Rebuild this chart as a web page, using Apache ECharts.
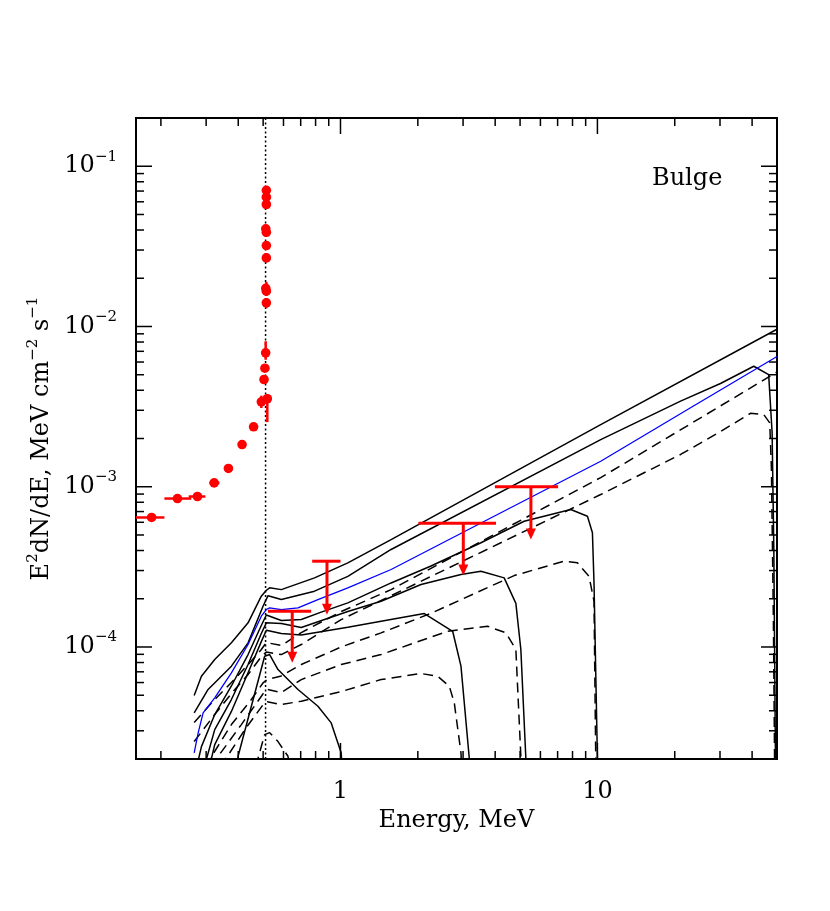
<!DOCTYPE html>
<html><head><meta charset="utf-8">
<script src="https://cdn.jsdelivr.net/npm/echarts@6/dist/echarts.min.js"></script>
<style>html,body{margin:0;padding:0;background:#fff}#c{width:830px;height:911px}</style>
</head><body><div id="c"></div>
<script>
// ---------------- data (Energy in MeV, E^2 dN/dE in MeV cm^-2 s^-1) ----------------
const xMajorTicks = [1, 10];
const xMinorTicks = [0.2,0.3,0.4,0.5,0.6,0.7,0.8,0.9,2,3,4,5,6,7,8,9,20,30,40];
const yMajorTicks = [1e-4, 1e-3, 1e-2, 1e-1];
const yMinorTicks = [3e-5,4e-5,5e-5,6e-5,7e-5,8e-5,9e-5,
  2e-4,3e-4,4e-4,5e-4,6e-4,7e-4,8e-4,9e-4,
  2e-3,3e-3,4e-3,5e-3,6e-3,7e-3,8e-3,9e-3,
  2e-2,3e-2,4e-2,5e-2,6e-2,7e-2,8e-2,9e-2];

// measured spectrum (red points)
const ptE   = [0.148, 0.184, 0.232, 0.2775, 0.3223, 0.3663, 0.414, 0.459, 0.492, 0.519, 0.504, 0.508, 0.5115, 0.5146, 0.5146, 0.512, 0.5146, 0.5146, 0.5146, 0.512, 0.5146, 0.5146, 0.5146];
const ptF   = [9.08e-4, 6.43e-4, 8.44e-4, 8.69e-4, 1.057e-3, 1.30e-3, 1.834e-3, 2.366e-3, 3.39e-3, 3.54e-3, 4.67e-3, 5.49e-3, 6.85e-3, 1.405e-2, 1.66e-2, 1.73e-2, 2.68e-2, 3.2e-2, 3.87e-2, 4.07e-2, 5.77e-2, 6.41e-2, 7.08e-2];
const ptElo = [0.136, 0.158, 0.2064, 0.2565, 0.309, 0.3536, 0.400, 0.443, 0.492, 0.519, 0.504, 0.508, 0.5115, 0.5146, 0.5146, 0.512, 0.5146, 0.5146, 0.5146, 0.512, 0.5146, 0.5146, 0.5146];
const ptEhi = [0.160, 0.2064, 0.2626, 0.298, 0.338, 0.3795, 0.429, 0.4755, 0.492, 0.519, 0.504, 0.508, 0.5115, 0.5146, 0.5146, 0.512, 0.5146, 0.5146, 0.5146, 0.512, 0.5146, 0.5146, 0.5146];
const ptFlo = [9.08e-4, 6.43e-4, 8.44e-4, 8.69e-4, 1.057e-3, 1.30e-3, 1.834e-3, 2.366e-3, 3.1e-3, 2.53e-3, 4.4e-3, 5.2e-3, 6.2e-3, 1.3e-2, 1.55e-2, 1.65e-2, 2.55e-2, 3.05e-2, 3.7e-2, 3.95e-2, 5.6e-2, 6.2e-2, 6.9e-2];
const ptFhi = [9.08e-4, 6.43e-4, 8.44e-4, 8.69e-4, 1.057e-3, 1.30e-3, 1.834e-3, 2.366e-3, 3.7e-3, 3.76e-3, 4.95e-3, 5.8e-3, 8.09e-3, 1.5e-2, 1.9e-2, 1.8e-2, 2.8e-2, 3.35e-2, 4.0e-2, 4.2e-2, 5.95e-2, 6.6e-2, 7.3e-2];

// upper limits (red)
const ulE   = [0.649, 0.886, 3.006, 5.51];
const ulElo = [0.522, 0.776, 2.01, 3.99];
const ulEhi = [0.769, 1.0, 4.03, 7.03];
const ulF   = [1.67e-4, 3.43e-4, 5.92e-4, 1.0e-3];
const ulTip = [7.96e-5, 1.59e-4, 2.79e-4, 4.69e-4];

// model curves [E, E^2 dN/dE]
const solidTop = [[0.2695,4.98e-5],[0.2876,6.57e-5],[0.324,8.35e-5],[0.3762,1.062e-4],[0.4368,1.415e-4],[0.4918,2.075e-4],[0.5146,2.26e-4],[0.530,2.34e-4],[0.5884,2.28e-4],[0.7925,2.70e-4],[1.068,3.35e-4],[1.574,4.68e-4],[10.3,2.44e-3],[50,9.61e-3]];
const solid50 = [[0.2695,3.88e-5],[0.3053,5.43e-5],[0.3762,7.59e-5],[0.4368,1.061e-4],[0.4995,1.795e-4],[0.5224,2.09e-4],[0.5884,1.977e-4],[0.7925,2.23e-4],[1.068,2.76e-4],[1.574,4.06e-4],[10.3,1.97e-3],[21.07,3.42e-3],[30.13,4.41e-3],[40.6,5.65e-3],[46.4,5.01e-3],[47.86,2.17e-3],[48.6,4.06e-4],[49.27,2.40e-5],[49.4,1.5e-5]];
const blueCurve = [[0.2695,2.185e-5],[0.2793,2.91e-5],[0.292,3.88e-5],[0.324,4.82e-5],[0.3762,6.90e-5],[0.4368,1.036e-4],[0.4918,1.556e-4],[0.5146,1.713e-4],[0.530,1.755e-4],[0.5884,1.713e-4],[0.6832,1.755e-4],[0.817,1.977e-4],[1.068,2.34e-4],[1.574,3.045e-4],[4.21,6.88e-4],[10.3,1.443e-3],[23.04,3.11e-3],[50,6.5e-3]];
const solid10 = [[0.276,1.8e-5],[0.2876,2.39e-5],[0.324,3.79e-5],[0.3762,5.71e-5],[0.4368,8.97e-5],[0.4918,1.361e-4],[0.5146,1.583e-4],[0.5884,1.462e-4],[0.7036,1.483e-4],[0.8415,1.65e-4],[1.068,1.886e-4],[1.574,2.51e-4],[2.251,3.2e-4],[3.521,4.47e-4],[5.186,6.09e-4],[7.875,7.21e-4],[9.145,6.55e-4],[9.563,5.16e-4],[9.70,2.51e-4],[10.0,2.03e-5],[10.05,1.5e-5]];
const solid5 = [[0.2954,1.8e-5],[0.324,3.05e-5],[0.3762,4.70e-5],[0.4368,7.77e-5],[0.4918,1.213e-4],[0.5146,1.415e-4],[0.5884,1.40e-4],[0.7036,1.322e-4],[1.068,1.664e-4],[1.439,1.93e-4],[2.058,2.455e-4],[2.944,2.83e-4],[3.521,2.97e-4],[4.336,2.70e-4],[4.815,1.87e-4],[5.035,9.64e-5],[5.265,2.03e-5],[5.29,1.5e-5]];
const solid3 = [[0.3094,1.8e-5],[0.324,2.46e-5],[0.3762,3.96e-5],[0.4368,6.90e-5],[0.4918,1.08e-4],[0.5146,1.272e-4],[0.5884,1.213e-4],[0.7036,1.187e-4],[1.068,1.33e-4],[1.439,1.449e-4],[2.12,1.617e-4],[2.733,1.253e-4],[2.944,7.59e-5],[3.171,2.03e-5],[3.19,1.5e-5]];
const solid1 = [[0.397,1.8e-5],[0.3994,2.08e-5],[0.5068,8.75e-5],[0.530,8.97e-5],[0.5712,7.23e-5],[0.6832,5.43e-5],[0.817,4.27e-5],[0.9202,3.36e-5],[0.977,2.52e-5],[1.006,2.185e-5],[1.02,1.6e-5]];
const dashTop = [[0.2695,3.38e-5],[0.324,4.70e-5],[0.3762,6.0e-5],[0.4368,7.77e-5],[0.4918,9.64e-5],[0.5146,1.066e-4],[0.5884,1.021e-4],[0.7036,1.23e-4],[1.006,1.664e-4],[1.574,2.28e-4],[10.3,1.141e-3],[25.2,2.69e-3],[50,5.2e-3]];
const dash50 = [[0.2695,2.57e-5],[0.324,3.79e-5],[0.3762,5.12e-5],[0.4368,6.73e-5],[0.4918,8.72e-5],[0.5146,9.3e-5],[0.5884,8.97e-5],[0.7036,1.036e-4],[1.006,1.483e-4],[1.574,2.09e-4],[10.3,8.94e-4],[21.07,1.59e-3],[30.13,2.21e-3],[39.4,2.87e-3],[44.4,2.82e-3],[46.85,2.505e-3],[47.56,1.3e-3],[48.4,1.5e-4],[49.0,1.5e-5]];
const dash10 = [[0.298,1.8e-5],[0.3762,3.28e-5],[0.4498,4.70e-5],[0.5008,6.0e-5],[0.519,6.26e-5],[0.5884,6.6e-5],[0.7036,7.77e-5],[1.006,1.0e-4],[1.439,1.225e-4],[2.251,1.623e-4],[4.742,2.79e-4],[7.418,3.43e-4],[8.36,3.35e-4],[9.277,2.76e-4],[9.70,1.93e-4],[9.849,2.08e-5],[9.87,1.5e-5]];
const dash5 = [[0.313,1.8e-5],[0.4113,3.28e-5],[0.5068,5.27e-5],[0.519,5.43e-5],[0.5884,5.2e-5],[0.7036,6.26e-5],[1.006,7.77e-5],[1.439,8.97e-5],[2.614,1.253e-4],[3.738,1.347e-4],[4.404,1.225e-4],[4.815,9.64e-5],[5.035,2.08e-5],[5.05,1.5e-5]];
const dash3 = [[0.342,1.8e-5],[0.4301,3.145e-5],[0.5068,4.5e-5],[0.519,4.55e-5],[0.5884,4.375e-5],[0.7036,4.59e-5],[1.006,5.27e-5],[1.439,6.26e-5],[2.058,6.83e-5],[2.39,6.57e-5],[2.652,5.69e-5],[2.773,4.48e-5],[2.944,2.185e-5],[2.97,1.6e-5]];
const dash1 = [[0.468,1.8e-5],[0.5068,2.84e-5],[0.530,2.92e-5],[0.5712,2.57e-5],[0.6246,2.08e-5],[0.64,1.7e-5]];
const lineE511 = [[0.511, 2e-5], [0.511, 0.2]];

// ---------------- chart ----------------
const X_MIN = 0.16, X_MAX = 50, Y_MIN = 2e-5, Y_MAX = 0.2;
const FONT = 'DejaVu Serif';
const isPow10 = v => Math.abs(Math.log10(v) - Math.round(Math.log10(v))) < 1e-6;

const xTickRows = xMajorTicks.map(v => [v, Y_MIN, 1]).concat(xMinorTicks.map(v => [v, Y_MIN, 0]));
const yTickRows = yMajorTicks.map(v => [X_MIN, v, 1]).concat(yMinorTicks.map(v => [X_MIN, v, 0]));
const ptRows = ptE.map((e, i) => [e, ptF[i], ptElo[i], ptEhi[i], ptFlo[i], ptFhi[i]]);
const ulRows = ulE.map((e, i) => [e, ulF[i], ulElo[i], ulEhi[i], ulTip[i]]);

function curve(data, color, type, width) {
  return {type: 'line', data: data, symbol: 'none', smooth: false, clip: true, silent: true,
    lineStyle: {color: color, width: width || 1.5, type: type || 'solid'}, z: 2};
}
const DASH = [10, 6];

const chart = echarts.init(document.getElementById('c'), null, {renderer: 'canvas'});
chart.setOption({
  animation: false,
  backgroundColor: '#fff',
  title: {text: 'Bulge', left: 647, top: 162,
    textStyle: {fontFamily: FONT, fontSize: 24, fontWeight: 'normal', color: '#000'}},
  grid: {left: 136, top: 118, width: 641, height: 641, show: true, borderColor: '#000', borderWidth: 2,
    backgroundColor: 'transparent', containLabel: false, outerBoundsMode: 'none'},
  xAxis: {type: 'log', logBase: 10, min: X_MIN, max: X_MAX,
    axisLine: {show: false}, axisTick: {show: false}, splitLine: {show: false},
    axisLabel: {margin: 21, fontFamily: FONT, fontSize: 24, color: '#000',
      formatter: v => isPow10(v) ? String(Math.round(v)) : ''},
    name: 'Energy, MeV', nameLocation: 'middle', nameGap: 19,
    nameTextStyle: {fontFamily: FONT, fontSize: 24, color: '#000'}},
  yAxis: {type: 'log', logBase: 10, min: Y_MIN, max: Y_MAX,
    axisLine: {show: false}, axisTick: {show: false}, splitLine: {show: false},
    axisLabel: {margin: 19,
      formatter: v => {
        if (!isPow10(v)) return '';
        const p = Math.round(Math.log10(v));
        return '{b|10}{s|' + (p < 0 ? '\u2212' : '') + Math.abs(p) + '}';
      },
      rich: {b: {fontFamily: FONT, fontSize: 24, color: '#000', lineHeight: 34},
             s: {fontFamily: FONT, fontSize: 15, color: '#000', lineHeight: 15, verticalAlign: 'top'}}},
    name: '{t|E}{s|2}{t|dN/dE, MeV cm}{s|\u22122}{t| s}{s|\u22121}',
    nameLocation: 'middle', nameGap: 67, nameRotate: 90,
    nameTextStyle: {rich: {t: {fontFamily: FONT, fontSize: 24, color: '#000', lineHeight: 32},
                           s: {fontFamily: FONT, fontSize: 15, color: '#000', lineHeight: 15, verticalAlign: 'top'}}}},
  series: [
    curve(lineE511, '#000', [2, 2.5], 1.5),
    curve(dash1, '#000', DASH),
    curve(dash3, '#000', DASH),
    curve(dash5, '#000', DASH),
    curve(dash10, '#000', DASH),
    curve(dash50, '#000', DASH),
    curve(dashTop, '#000', DASH),
    curve(solid1, '#000'),
    curve(solid3, '#000'),
    curve(solid5, '#000'),
    curve(solid10, '#000'),
    curve(solid50, '#000'),
    curve(solidTop, '#000'),
    curve(blueCurve, '#0000ff', 'solid', 1.3),
    {type: 'custom', data: ulRows, encode: {x: 0, y: 1}, clip: true, silent: true, z: 5,
      renderItem: (params, api) => {
        const e = api.value(0), f = api.value(1);
        const l = api.coord([api.value(2), f]), h = api.coord([api.value(3), f]);
        const top = api.coord([e, f]), tip = api.coord([e, api.value(4)]);
        const red = '#ff0000';
        return {type: 'group', children: [
          {type: 'line', shape: {x1: l[0], y1: l[1], x2: h[0], y2: h[1]}, style: {stroke: red, lineWidth: 3}},
          {type: 'line', shape: {x1: top[0], y1: top[1], x2: tip[0], y2: tip[1] - 9}, style: {stroke: red, lineWidth: 3}},
          {type: 'polygon', shape: {points: [[tip[0] - 5, tip[1] - 11], [tip[0] + 5, tip[1] - 11], [tip[0], tip[1]]]}, style: {fill: red}}
        ]};
      }},
    {type: 'custom', data: ptRows, encode: {x: 0, y: 1}, clip: true, silent: true, z: 6,
      renderItem: (params, api) => {
        const e = api.value(0), f = api.value(1);
        const c = api.coord([e, f]);
        const l = api.coord([api.value(2), f]), h = api.coord([api.value(3), f]);
        const lo = api.coord([e, api.value(4)]), hi = api.coord([e, api.value(5)]);
        const red = '#ff0000';
        return {type: 'group', children: [
          {type: 'line', shape: {x1: l[0], y1: l[1], x2: h[0], y2: h[1]}, style: {stroke: red, lineWidth: 2.5}},
          {type: 'line', shape: {x1: lo[0], y1: lo[1], x2: hi[0], y2: hi[1]}, style: {stroke: red, lineWidth: 2.5}},
          {type: 'circle', shape: {cx: c[0], cy: c[1], r: 4.8}, style: {fill: red}}
        ]};
      }},
    {type: 'custom', data: xTickRows, encode: {x: 0, y: 1}, clip: false, silent: true, z: 10,
      renderItem: (params, api) => {
        const v = api.value(0), len = api.value(2) ? 16 : 8;
        const b = api.coord([v, Y_MIN]), t = api.coord([v, Y_MAX]);
        return {type: 'group', children: [
          {type: 'line', shape: {x1: b[0], y1: b[1], x2: b[0], y2: b[1] - len}, style: {stroke: '#000', lineWidth: 1.5}},
          {type: 'line', shape: {x1: t[0], y1: t[1], x2: t[0], y2: t[1] + len}, style: {stroke: '#000', lineWidth: 1.5}}
        ]};
      }},
    {type: 'custom', data: yTickRows, encode: {x: 0, y: 1}, clip: false, silent: true, z: 10,
      renderItem: (params, api) => {
        const v = api.value(1), len = api.value(2) ? 16 : 8;
        const l = api.coord([X_MIN, v]), r = api.coord([X_MAX, v]);
        return {type: 'group', children: [
          {type: 'line', shape: {x1: l[0], y1: l[1], x2: l[0] + len, y2: l[1]}, style: {stroke: '#000', lineWidth: 1.5}},
          {type: 'line', shape: {x1: r[0], y1: r[1], x2: r[0] - len, y2: r[1]}, style: {stroke: '#000', lineWidth: 1.5}}
        ]};
      }}
  ]
});
</script></body></html>
